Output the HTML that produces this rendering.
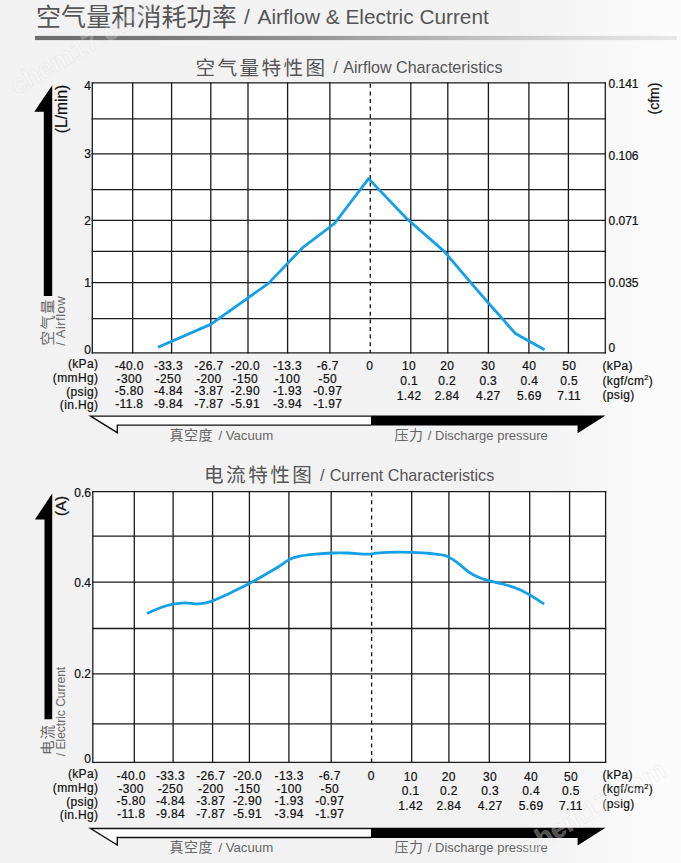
<!DOCTYPE html>
<html><head><meta charset="utf-8"><title>空气量和消耗功率 / Airflow &amp; Electric Current</title>
<style>
html,body{margin:0;padding:0;}
body{width:681px;height:863px;overflow:hidden;background:#f2f2f2;}
svg{display:block;}
.b{stroke:#111;stroke-width:0.22px;}
</style></head><body>
<svg width="681" height="863" viewBox="0 0 681 863">
<defs>
<linearGradient id="bg" x1="520" y1="0" x2="681" y2="0" gradientUnits="userSpaceOnUse">
<stop offset="0" stop-color="#f2f2f2"/><stop offset="1" stop-color="#fcfcfc"/>
</linearGradient>
<linearGradient id="hl" x1="35" y1="0" x2="677" y2="0" gradientUnits="userSpaceOnUse">
<stop offset="0" stop-color="#6c6c6c"/><stop offset="0.18" stop-color="#767676"/><stop offset="0.43" stop-color="#959595"/><stop offset="0.646" stop-color="#b8b8b8"/><stop offset="0.833" stop-color="#d5d5d5"/><stop offset="1" stop-color="#e8e8e8"/>
</linearGradient>
</defs>
<rect x="0" y="0" width="681" height="863" fill="#f2f2f2"/>
<rect x="520" y="0" width="161" height="863" fill="url(#bg)"/>

<text x="36" y="26" font-size="25" letter-spacing="0.1" fill="#555" font-family='"Liberation Sans", "Noto Sans CJK SC", sans-serif'>空气量和消耗功率</text>
<text x="243.9" y="24.2" font-size="20.8" text-anchor="start" fill="#555" font-family='"Liberation Sans", sans-serif'>/<tspan dx="3.3"> Airflow &amp; Electric Current</tspan></text>
<rect x="35" y="35.9" width="642" height="4.2" fill="url(#hl)"/>
<text x="195.6" y="74.6" font-size="19.6" letter-spacing="2.4" fill="#555" font-family='"Liberation Sans", "Noto Sans CJK SC", sans-serif'>空气量特性图</text>
<text x="333.2" y="73.2" font-size="16.1" text-anchor="start" fill="#555" font-family='"Liberation Sans", sans-serif'>/<tspan dx="2"> Airflow Characteristics</tspan></text>
<rect x="92.3" y="82.9" width="513" height="270" fill="#fff"/>
<line x1="92.3" y1="82.3" x2="92.3" y2="353.5" stroke="#1a1a1a" stroke-width="1.3"/>
<line x1="132.7" y1="82.3" x2="132.7" y2="353.5" stroke="#1a1a1a" stroke-width="1.3"/>
<line x1="171.6" y1="82.3" x2="171.6" y2="353.5" stroke="#1a1a1a" stroke-width="1.3"/>
<line x1="210.8" y1="82.3" x2="210.8" y2="353.5" stroke="#1a1a1a" stroke-width="1.3"/>
<line x1="248" y1="82.3" x2="248" y2="353.5" stroke="#1a1a1a" stroke-width="1.3"/>
<line x1="287.6" y1="82.3" x2="287.6" y2="353.5" stroke="#1a1a1a" stroke-width="1.3"/>
<line x1="329.9" y1="82.3" x2="329.9" y2="353.5" stroke="#1a1a1a" stroke-width="1.3"/>
<line x1="370.3" y1="82.9" x2="370.3" y2="352.9" stroke="#111" stroke-width="1.3" stroke-dasharray="4 3.6" stroke-dashoffset="-0.9"/>
<line x1="410.8" y1="82.3" x2="410.8" y2="353.5" stroke="#1a1a1a" stroke-width="1.3"/>
<line x1="447.8" y1="82.3" x2="447.8" y2="353.5" stroke="#1a1a1a" stroke-width="1.3"/>
<line x1="488.4" y1="82.3" x2="488.4" y2="353.5" stroke="#1a1a1a" stroke-width="1.3"/>
<line x1="528.9" y1="82.3" x2="528.9" y2="353.5" stroke="#1a1a1a" stroke-width="1.3"/>
<line x1="568.4" y1="82.3" x2="568.4" y2="353.5" stroke="#1a1a1a" stroke-width="1.3"/>
<line x1="605.3" y1="82.3" x2="605.3" y2="353.5" stroke="#1a1a1a" stroke-width="1.3"/>
<line x1="91.7" y1="82.9" x2="605.9" y2="82.9" stroke="#1a1a1a" stroke-width="1.3"/>
<line x1="91.7" y1="118.9" x2="605.9" y2="118.9" stroke="#1a1a1a" stroke-width="1.3"/>
<line x1="91.7" y1="153.9" x2="605.9" y2="153.9" stroke="#1a1a1a" stroke-width="1.3"/>
<line x1="91.7" y1="189.6" x2="605.9" y2="189.6" stroke="#1a1a1a" stroke-width="1.3"/>
<line x1="91.7" y1="220.4" x2="605.9" y2="220.4" stroke="#1a1a1a" stroke-width="1.3"/>
<line x1="91.7" y1="251.4" x2="605.9" y2="251.4" stroke="#1a1a1a" stroke-width="1.3"/>
<line x1="91.7" y1="282.7" x2="605.9" y2="282.7" stroke="#1a1a1a" stroke-width="1.3"/>
<line x1="91.7" y1="318.6" x2="605.9" y2="318.6" stroke="#1a1a1a" stroke-width="1.3"/>
<line x1="91.7" y1="352.9" x2="605.9" y2="352.9" stroke="#1a1a1a" stroke-width="1.3"/>
<polyline points="158,347.3 210.7,324.4 268.4,283.4 303,247.3 334.5,223.5 368.6,178.6 406.8,218.7 444,251.1 478,291.2 515.4,333.5 544.6,349.8" fill="none" stroke="#14a0e6" stroke-width="2.8" stroke-linejoin="round" stroke-linecap="butt"/>
<text x="91" y="90.2" font-size="12" text-anchor="end" fill="#111" font-family='"Liberation Sans", sans-serif' class="b">4</text>
<text x="91" y="158.2" font-size="12" text-anchor="end" fill="#111" font-family='"Liberation Sans", sans-serif' class="b">3</text>
<text x="91" y="224.8" font-size="12" text-anchor="end" fill="#111" font-family='"Liberation Sans", sans-serif' class="b">2</text>
<text x="91" y="287.2" font-size="12" text-anchor="end" fill="#111" font-family='"Liberation Sans", sans-serif' class="b">1</text>
<text x="91" y="354.2" font-size="12" text-anchor="end" fill="#111" font-family='"Liberation Sans", sans-serif' class="b">0</text>
<text x="608.5" y="88" font-size="12" text-anchor="start" fill="#111" font-family='"Liberation Sans", sans-serif' class="b">0.141</text>
<text x="608.5" y="160" font-size="12" text-anchor="start" fill="#111" font-family='"Liberation Sans", sans-serif' class="b">0.106</text>
<text x="608.5" y="225" font-size="12" text-anchor="start" fill="#111" font-family='"Liberation Sans", sans-serif' class="b">0.071</text>
<text x="608.5" y="287" font-size="12" text-anchor="start" fill="#111" font-family='"Liberation Sans", sans-serif' class="b">0.035</text>
<text x="608.5" y="352" font-size="12" text-anchor="start" fill="#111" font-family='"Liberation Sans", sans-serif' class="b">0</text>
<text x="0" y="0" font-size="15.6" text-anchor="start" fill="#111" font-family='"Liberation Sans", sans-serif' class="b" transform="translate(66.6 133.2) rotate(-90)">(L/min)</text>
<text x="0" y="0" font-size="14" text-anchor="start" fill="#111" font-family='"Liberation Sans", sans-serif' class="b" transform="translate(659 114.5) rotate(-90)">(cfm)</text>
<path d="M52.2 85.2 L34.3 111.8 L43.8 111.8 L43.8 296 L52.2 296 Z" fill="#000"/>
<text transform="translate(52.5 345.5) rotate(-90)" font-size="14.5" letter-spacing="1.3" fill="#686868" font-family='"Liberation Sans", "Noto Sans CJK SC", sans-serif'>空气量</text>
<text x="0" y="0" font-size="13" text-anchor="start" fill="#686868" font-family='"Liberation Sans", sans-serif' letter-spacing="0.5" transform="translate(65.4 345.8) rotate(-90)">/ Airflow</text>
<text x="129.27" y="369.6" font-size="12" text-anchor="middle" fill="#111" font-family='"Liberation Sans", sans-serif' class="b" letter-spacing="0.35">-40.0</text>
<text x="168.47" y="369.6" font-size="12" text-anchor="middle" fill="#111" font-family='"Liberation Sans", sans-serif' class="b" letter-spacing="0.35">-33.3</text>
<text x="208.87" y="369.6" font-size="12" text-anchor="middle" fill="#111" font-family='"Liberation Sans", sans-serif' class="b" letter-spacing="0.35">-26.7</text>
<text x="245.37" y="369.6" font-size="12" text-anchor="middle" fill="#111" font-family='"Liberation Sans", sans-serif' class="b" letter-spacing="0.35">-20.0</text>
<text x="287.47" y="369.6" font-size="12" text-anchor="middle" fill="#111" font-family='"Liberation Sans", sans-serif' class="b" letter-spacing="0.35">-13.3</text>
<text x="327.77" y="369.6" font-size="12" text-anchor="middle" fill="#111" font-family='"Liberation Sans", sans-serif' class="b" letter-spacing="0.35">-6.7</text>
<text x="369.67" y="369.6" font-size="12" text-anchor="middle" fill="#111" font-family='"Liberation Sans", sans-serif' class="b" letter-spacing="0.35">0</text>
<text x="129.27" y="382.5" font-size="12" text-anchor="middle" fill="#111" font-family='"Liberation Sans", sans-serif' class="b" letter-spacing="0.35">-300</text>
<text x="168.47" y="382.5" font-size="12" text-anchor="middle" fill="#111" font-family='"Liberation Sans", sans-serif' class="b" letter-spacing="0.35">-250</text>
<text x="208.87" y="382.5" font-size="12" text-anchor="middle" fill="#111" font-family='"Liberation Sans", sans-serif' class="b" letter-spacing="0.35">-200</text>
<text x="245.37" y="382.5" font-size="12" text-anchor="middle" fill="#111" font-family='"Liberation Sans", sans-serif' class="b" letter-spacing="0.35">-150</text>
<text x="287.47" y="382.5" font-size="12" text-anchor="middle" fill="#111" font-family='"Liberation Sans", sans-serif' class="b" letter-spacing="0.35">-100</text>
<text x="327.77" y="382.5" font-size="12" text-anchor="middle" fill="#111" font-family='"Liberation Sans", sans-serif' class="b" letter-spacing="0.35">-50</text>
<text x="129.27" y="395.2" font-size="12" text-anchor="middle" fill="#111" font-family='"Liberation Sans", sans-serif' class="b" letter-spacing="0.35">-5.80</text>
<text x="168.47" y="395.2" font-size="12" text-anchor="middle" fill="#111" font-family='"Liberation Sans", sans-serif' class="b" letter-spacing="0.35">-4.84</text>
<text x="208.87" y="395.2" font-size="12" text-anchor="middle" fill="#111" font-family='"Liberation Sans", sans-serif' class="b" letter-spacing="0.35">-3.87</text>
<text x="245.37" y="395.2" font-size="12" text-anchor="middle" fill="#111" font-family='"Liberation Sans", sans-serif' class="b" letter-spacing="0.35">-2.90</text>
<text x="287.47" y="395.2" font-size="12" text-anchor="middle" fill="#111" font-family='"Liberation Sans", sans-serif' class="b" letter-spacing="0.35">-1.93</text>
<text x="327.77" y="395.2" font-size="12" text-anchor="middle" fill="#111" font-family='"Liberation Sans", sans-serif' class="b" letter-spacing="0.35">-0.97</text>
<text x="129.27" y="407.9" font-size="12" text-anchor="middle" fill="#111" font-family='"Liberation Sans", sans-serif' class="b" letter-spacing="0.35">-11.8</text>
<text x="168.47" y="407.9" font-size="12" text-anchor="middle" fill="#111" font-family='"Liberation Sans", sans-serif' class="b" letter-spacing="0.35">-9.84</text>
<text x="208.87" y="407.9" font-size="12" text-anchor="middle" fill="#111" font-family='"Liberation Sans", sans-serif' class="b" letter-spacing="0.35">-7.87</text>
<text x="245.37" y="407.9" font-size="12" text-anchor="middle" fill="#111" font-family='"Liberation Sans", sans-serif' class="b" letter-spacing="0.35">-5.91</text>
<text x="287.47" y="407.9" font-size="12" text-anchor="middle" fill="#111" font-family='"Liberation Sans", sans-serif' class="b" letter-spacing="0.35">-3.94</text>
<text x="327.77" y="407.9" font-size="12" text-anchor="middle" fill="#111" font-family='"Liberation Sans", sans-serif' class="b" letter-spacing="0.35">-1.97</text>
<text x="409.07" y="370.3" font-size="12" text-anchor="middle" fill="#111" font-family='"Liberation Sans", sans-serif' class="b" letter-spacing="0.35">10</text>
<text x="447.17" y="370.3" font-size="12" text-anchor="middle" fill="#111" font-family='"Liberation Sans", sans-serif' class="b" letter-spacing="0.35">20</text>
<text x="488.27" y="370.3" font-size="12" text-anchor="middle" fill="#111" font-family='"Liberation Sans", sans-serif' class="b" letter-spacing="0.35">30</text>
<text x="529.37" y="370.3" font-size="12" text-anchor="middle" fill="#111" font-family='"Liberation Sans", sans-serif' class="b" letter-spacing="0.35">40</text>
<text x="569.17" y="370.3" font-size="12" text-anchor="middle" fill="#111" font-family='"Liberation Sans", sans-serif' class="b" letter-spacing="0.35">50</text>
<text x="409.07" y="385" font-size="12" text-anchor="middle" fill="#111" font-family='"Liberation Sans", sans-serif' class="b" letter-spacing="0.35">0.1</text>
<text x="447.17" y="385" font-size="12" text-anchor="middle" fill="#111" font-family='"Liberation Sans", sans-serif' class="b" letter-spacing="0.35">0.2</text>
<text x="488.27" y="385" font-size="12" text-anchor="middle" fill="#111" font-family='"Liberation Sans", sans-serif' class="b" letter-spacing="0.35">0.3</text>
<text x="529.37" y="385" font-size="12" text-anchor="middle" fill="#111" font-family='"Liberation Sans", sans-serif' class="b" letter-spacing="0.35">0.4</text>
<text x="569.17" y="385" font-size="12" text-anchor="middle" fill="#111" font-family='"Liberation Sans", sans-serif' class="b" letter-spacing="0.35">0.5</text>
<text x="409.07" y="400" font-size="12" text-anchor="middle" fill="#111" font-family='"Liberation Sans", sans-serif' class="b" letter-spacing="0.35">1.42</text>
<text x="447.17" y="400" font-size="12" text-anchor="middle" fill="#111" font-family='"Liberation Sans", sans-serif' class="b" letter-spacing="0.35">2.84</text>
<text x="488.27" y="400" font-size="12" text-anchor="middle" fill="#111" font-family='"Liberation Sans", sans-serif' class="b" letter-spacing="0.35">4.27</text>
<text x="529.37" y="400" font-size="12" text-anchor="middle" fill="#111" font-family='"Liberation Sans", sans-serif' class="b" letter-spacing="0.35">5.69</text>
<text x="569.17" y="400" font-size="12" text-anchor="middle" fill="#111" font-family='"Liberation Sans", sans-serif' class="b" letter-spacing="0.35">7.11</text>
<text x="98.3" y="368.4" font-size="12" text-anchor="end" fill="#111" font-family='"Liberation Sans", sans-serif' class="b" letter-spacing="0.35">(kPa)</text>
<text x="98.3" y="381.6" font-size="12" text-anchor="end" fill="#111" font-family='"Liberation Sans", sans-serif' class="b" letter-spacing="0.35">(mmHg)</text>
<text x="98.3" y="396.1" font-size="12" text-anchor="end" fill="#111" font-family='"Liberation Sans", sans-serif' class="b" letter-spacing="0.35">(psig)</text>
<text x="98.3" y="408.6" font-size="12" text-anchor="end" fill="#111" font-family='"Liberation Sans", sans-serif' class="b" letter-spacing="0.35">(in.Hg)</text>
<text x="602.5" y="369.8" font-size="12" text-anchor="start" fill="#111" font-family='"Liberation Sans", sans-serif' class="b" letter-spacing="0.35">(kPa)</text>
<text x="602.5" y="384.6" font-size="12" text-anchor="start" fill="#111" font-family='"Liberation Sans", sans-serif' class="b" letter-spacing="0.35">(kgf/cm<tspan font-size="7.5" dy="-4.2">2</tspan><tspan dy="4.2">)</tspan></text>
<text x="602.5" y="398.9" font-size="12" text-anchor="start" fill="#111" font-family='"Liberation Sans", sans-serif' class="b" letter-spacing="0.35">(psig)</text>
<path d="M371 416.1 L90.6 416.1 L117.3 432.7 L117.3 425.1 L371 425.1" fill="#fff" stroke="#111" stroke-width="1.4" stroke-linejoin="miter"/>
<path d="M371 415.4 L605.5 415.4 L577.6 433.2 L577.6 425.6 L371 425.6 Z" fill="#000"/>
<text x="169.5" y="439.5" font-size="14" letter-spacing="0.5" fill="#666" font-family='"Liberation Sans", "Noto Sans CJK SC", sans-serif'>真空度</text>
<text x="218.4" y="439.8" font-size="13.2" text-anchor="start" fill="#666" font-family='"Liberation Sans", sans-serif'>/ Vacuum</text>
<text x="394.5" y="439.5" font-size="14" letter-spacing="0.5" fill="#666" font-family='"Liberation Sans", "Noto Sans CJK SC", sans-serif'>压力</text>
<text x="427.8" y="439.6" font-size="13" text-anchor="start" fill="#666" font-family='"Liberation Sans", sans-serif'>/ Discharge pressure</text>
<text x="204" y="482.1" font-size="19.6" letter-spacing="2.5" fill="#555" font-family='"Liberation Sans", "Noto Sans CJK SC", sans-serif'>电流特性图</text>
<text x="320.1" y="480.8" font-size="16.1" text-anchor="start" fill="#555" font-family='"Liberation Sans", sans-serif'>/<tspan dx="0.6"> Current Characteristics</tspan></text>
<rect x="92.8" y="491.7" width="512.8" height="270.7" fill="#fff"/>
<line x1="92.8" y1="491.1" x2="92.8" y2="763" stroke="#1a1a1a" stroke-width="1.3"/>
<line x1="134.3" y1="491.1" x2="134.3" y2="763" stroke="#1a1a1a" stroke-width="1.3"/>
<line x1="173.1" y1="491.1" x2="173.1" y2="763" stroke="#1a1a1a" stroke-width="1.3"/>
<line x1="212.6" y1="491.1" x2="212.6" y2="763" stroke="#1a1a1a" stroke-width="1.3"/>
<line x1="249.4" y1="491.1" x2="249.4" y2="763" stroke="#1a1a1a" stroke-width="1.3"/>
<line x1="288.9" y1="491.1" x2="288.9" y2="763" stroke="#1a1a1a" stroke-width="1.3"/>
<line x1="331.2" y1="491.1" x2="331.2" y2="763" stroke="#1a1a1a" stroke-width="1.3"/>
<line x1="371.6" y1="491.7" x2="371.6" y2="762.4" stroke="#111" stroke-width="1.3" stroke-dasharray="4 3.6" stroke-dashoffset="-0.9"/>
<line x1="411.7" y1="491.1" x2="411.7" y2="763" stroke="#1a1a1a" stroke-width="1.3"/>
<line x1="448.9" y1="491.1" x2="448.9" y2="763" stroke="#1a1a1a" stroke-width="1.3"/>
<line x1="489.3" y1="491.1" x2="489.3" y2="763" stroke="#1a1a1a" stroke-width="1.3"/>
<line x1="529.7" y1="491.1" x2="529.7" y2="763" stroke="#1a1a1a" stroke-width="1.3"/>
<line x1="569.6" y1="491.1" x2="569.6" y2="763" stroke="#1a1a1a" stroke-width="1.3"/>
<line x1="605.6" y1="491.1" x2="605.6" y2="763" stroke="#1a1a1a" stroke-width="1.3"/>
<line x1="92.2" y1="491.7" x2="606.2" y2="491.7" stroke="#1a1a1a" stroke-width="1.3"/>
<line x1="92.2" y1="536.2" x2="606.2" y2="536.2" stroke="#1a1a1a" stroke-width="1.3"/>
<line x1="92.2" y1="582.1" x2="606.2" y2="582.1" stroke="#1a1a1a" stroke-width="1.3"/>
<line x1="92.2" y1="628.5" x2="606.2" y2="628.5" stroke="#1a1a1a" stroke-width="1.3"/>
<line x1="92.2" y1="673.8" x2="606.2" y2="673.8" stroke="#1a1a1a" stroke-width="1.3"/>
<line x1="92.2" y1="723.8" x2="606.2" y2="723.8" stroke="#1a1a1a" stroke-width="1.3"/>
<line x1="92.2" y1="762.4" x2="606.2" y2="762.4" stroke="#1a1a1a" stroke-width="1.3"/>
<path d="M147 613.4 C149.35 612.42 156.78 609.03 161.1 607.5 C165.42 605.97 168.98 604.98 172.9 604.2 C176.82 603.42 180.3 602.87 184.6 602.8 C188.9 602.73 194.38 603.98 198.7 603.8 C203.02 603.62 205.4 603.43 210.5 601.7 C215.6 599.97 222.83 596.42 229.3 593.4 C235.77 590.38 242.65 587.12 249.3 583.6 C255.95 580.08 264.08 575.28 269.2 572.3 C274.32 569.32 276.63 567.85 280 565.7 C283.37 563.55 286.27 560.97 289.4 559.4 C292.53 557.83 294.5 557.17 298.8 556.3 C303.1 555.43 309.72 554.75 315.2 554.2 C320.68 553.65 326.22 553.2 331.7 553 C337.18 552.8 342.23 552.8 348.1 553 C353.97 553.2 361.8 554.23 366.9 554.2 C372 554.17 373.6 553.15 378.7 552.8 C383.8 552.45 392.02 552.18 397.5 552.1 C402.98 552.02 406.12 552.07 411.6 552.3 C417.08 552.53 424.7 552.92 430.4 553.5 C436.1 554.08 441.27 554.23 445.8 555.8 C450.33 557.37 453.68 560.15 457.6 562.9 C461.52 565.65 465.38 569.75 469.3 572.3 C473.22 574.85 477.57 576.72 481.1 578.2 C484.63 579.68 486.58 580.15 490.5 581.2 C494.42 582.25 499.9 583.17 504.6 584.5 C509.3 585.83 514.4 587.4 518.7 589.2 C523 591 526.17 592.83 530.4 595.3 C534.63 597.77 541.82 602.55 544.1 604" fill="none" stroke="#14a0e6" stroke-width="2.8" stroke-linecap="butt"/>
<text x="91" y="497" font-size="12" text-anchor="end" fill="#111" font-family='"Liberation Sans", sans-serif' class="b">0.6</text>
<text x="91" y="586.6" font-size="12" text-anchor="end" fill="#111" font-family='"Liberation Sans", sans-serif' class="b">0.4</text>
<text x="91" y="678.4" font-size="12" text-anchor="end" fill="#111" font-family='"Liberation Sans", sans-serif' class="b">0.2</text>
<text x="91" y="762.7" font-size="12" text-anchor="end" fill="#111" font-family='"Liberation Sans", sans-serif' class="b">0</text>
<text x="0" y="0" font-size="15" text-anchor="start" fill="#111" font-family='"Liberation Sans", sans-serif' class="b" transform="translate(65.9 516.1) rotate(-90)">(A)</text>
<path d="M52.2 493.5 L34.9 519.6 L44.5 519.6 L44.5 719.2 L52.2 719.2 Z" fill="#000"/>
<text transform="translate(52.5 755) rotate(-90)" font-size="14.5" letter-spacing="1" fill="#686868" font-family='"Liberation Sans", "Noto Sans CJK SC", sans-serif'>电流</text>
<text x="0" y="0" font-size="12" text-anchor="start" fill="#686868" font-family='"Liberation Sans", sans-serif' transform="translate(65.4 756.2) rotate(-90)">/ Electric Current</text>
<text x="131.17" y="779.8" font-size="12" text-anchor="middle" fill="#111" font-family='"Liberation Sans", sans-serif' class="b" letter-spacing="0.35">-40.0</text>
<text x="170.47" y="779.8" font-size="12" text-anchor="middle" fill="#111" font-family='"Liberation Sans", sans-serif' class="b" letter-spacing="0.35">-33.3</text>
<text x="210.77" y="779.8" font-size="12" text-anchor="middle" fill="#111" font-family='"Liberation Sans", sans-serif' class="b" letter-spacing="0.35">-26.7</text>
<text x="247.47" y="779.8" font-size="12" text-anchor="middle" fill="#111" font-family='"Liberation Sans", sans-serif' class="b" letter-spacing="0.35">-20.0</text>
<text x="289.17" y="779.8" font-size="12" text-anchor="middle" fill="#111" font-family='"Liberation Sans", sans-serif' class="b" letter-spacing="0.35">-13.3</text>
<text x="329.77" y="779.8" font-size="12" text-anchor="middle" fill="#111" font-family='"Liberation Sans", sans-serif' class="b" letter-spacing="0.35">-6.7</text>
<text x="371.27" y="779.8" font-size="12" text-anchor="middle" fill="#111" font-family='"Liberation Sans", sans-serif' class="b" letter-spacing="0.35">0</text>
<text x="131.17" y="792.7" font-size="12" text-anchor="middle" fill="#111" font-family='"Liberation Sans", sans-serif' class="b" letter-spacing="0.35">-300</text>
<text x="170.47" y="792.7" font-size="12" text-anchor="middle" fill="#111" font-family='"Liberation Sans", sans-serif' class="b" letter-spacing="0.35">-250</text>
<text x="210.77" y="792.7" font-size="12" text-anchor="middle" fill="#111" font-family='"Liberation Sans", sans-serif' class="b" letter-spacing="0.35">-200</text>
<text x="247.47" y="792.7" font-size="12" text-anchor="middle" fill="#111" font-family='"Liberation Sans", sans-serif' class="b" letter-spacing="0.35">-150</text>
<text x="289.17" y="792.7" font-size="12" text-anchor="middle" fill="#111" font-family='"Liberation Sans", sans-serif' class="b" letter-spacing="0.35">-100</text>
<text x="329.77" y="792.7" font-size="12" text-anchor="middle" fill="#111" font-family='"Liberation Sans", sans-serif' class="b" letter-spacing="0.35">-50</text>
<text x="131.17" y="805.4" font-size="12" text-anchor="middle" fill="#111" font-family='"Liberation Sans", sans-serif' class="b" letter-spacing="0.35">-5.80</text>
<text x="170.47" y="805.4" font-size="12" text-anchor="middle" fill="#111" font-family='"Liberation Sans", sans-serif' class="b" letter-spacing="0.35">-4.84</text>
<text x="210.77" y="805.4" font-size="12" text-anchor="middle" fill="#111" font-family='"Liberation Sans", sans-serif' class="b" letter-spacing="0.35">-3.87</text>
<text x="247.47" y="805.4" font-size="12" text-anchor="middle" fill="#111" font-family='"Liberation Sans", sans-serif' class="b" letter-spacing="0.35">-2.90</text>
<text x="289.17" y="805.4" font-size="12" text-anchor="middle" fill="#111" font-family='"Liberation Sans", sans-serif' class="b" letter-spacing="0.35">-1.93</text>
<text x="329.77" y="805.4" font-size="12" text-anchor="middle" fill="#111" font-family='"Liberation Sans", sans-serif' class="b" letter-spacing="0.35">-0.97</text>
<text x="131.17" y="818.1" font-size="12" text-anchor="middle" fill="#111" font-family='"Liberation Sans", sans-serif' class="b" letter-spacing="0.35">-11.8</text>
<text x="170.47" y="818.1" font-size="12" text-anchor="middle" fill="#111" font-family='"Liberation Sans", sans-serif' class="b" letter-spacing="0.35">-9.84</text>
<text x="210.77" y="818.1" font-size="12" text-anchor="middle" fill="#111" font-family='"Liberation Sans", sans-serif' class="b" letter-spacing="0.35">-7.87</text>
<text x="247.47" y="818.1" font-size="12" text-anchor="middle" fill="#111" font-family='"Liberation Sans", sans-serif' class="b" letter-spacing="0.35">-5.91</text>
<text x="289.17" y="818.1" font-size="12" text-anchor="middle" fill="#111" font-family='"Liberation Sans", sans-serif' class="b" letter-spacing="0.35">-3.94</text>
<text x="329.77" y="818.1" font-size="12" text-anchor="middle" fill="#111" font-family='"Liberation Sans", sans-serif' class="b" letter-spacing="0.35">-1.97</text>
<text x="410.67" y="780.5" font-size="12" text-anchor="middle" fill="#111" font-family='"Liberation Sans", sans-serif' class="b" letter-spacing="0.35">10</text>
<text x="448.87" y="780.5" font-size="12" text-anchor="middle" fill="#111" font-family='"Liberation Sans", sans-serif' class="b" letter-spacing="0.35">20</text>
<text x="490.07" y="780.5" font-size="12" text-anchor="middle" fill="#111" font-family='"Liberation Sans", sans-serif' class="b" letter-spacing="0.35">30</text>
<text x="531.07" y="780.5" font-size="12" text-anchor="middle" fill="#111" font-family='"Liberation Sans", sans-serif' class="b" letter-spacing="0.35">40</text>
<text x="570.97" y="780.5" font-size="12" text-anchor="middle" fill="#111" font-family='"Liberation Sans", sans-serif' class="b" letter-spacing="0.35">50</text>
<text x="410.67" y="795.2" font-size="12" text-anchor="middle" fill="#111" font-family='"Liberation Sans", sans-serif' class="b" letter-spacing="0.35">0.1</text>
<text x="448.87" y="795.2" font-size="12" text-anchor="middle" fill="#111" font-family='"Liberation Sans", sans-serif' class="b" letter-spacing="0.35">0.2</text>
<text x="490.07" y="795.2" font-size="12" text-anchor="middle" fill="#111" font-family='"Liberation Sans", sans-serif' class="b" letter-spacing="0.35">0.3</text>
<text x="531.07" y="795.2" font-size="12" text-anchor="middle" fill="#111" font-family='"Liberation Sans", sans-serif' class="b" letter-spacing="0.35">0.4</text>
<text x="570.97" y="795.2" font-size="12" text-anchor="middle" fill="#111" font-family='"Liberation Sans", sans-serif' class="b" letter-spacing="0.35">0.5</text>
<text x="410.67" y="810.2" font-size="12" text-anchor="middle" fill="#111" font-family='"Liberation Sans", sans-serif' class="b" letter-spacing="0.35">1.42</text>
<text x="448.87" y="810.2" font-size="12" text-anchor="middle" fill="#111" font-family='"Liberation Sans", sans-serif' class="b" letter-spacing="0.35">2.84</text>
<text x="490.07" y="810.2" font-size="12" text-anchor="middle" fill="#111" font-family='"Liberation Sans", sans-serif' class="b" letter-spacing="0.35">4.27</text>
<text x="531.07" y="810.2" font-size="12" text-anchor="middle" fill="#111" font-family='"Liberation Sans", sans-serif' class="b" letter-spacing="0.35">5.69</text>
<text x="570.97" y="810.2" font-size="12" text-anchor="middle" fill="#111" font-family='"Liberation Sans", sans-serif' class="b" letter-spacing="0.35">7.11</text>
<text x="98.3" y="777.8" font-size="12" text-anchor="end" fill="#111" font-family='"Liberation Sans", sans-serif' class="b" letter-spacing="0.35">(kPa)</text>
<text x="98.3" y="791.5" font-size="12" text-anchor="end" fill="#111" font-family='"Liberation Sans", sans-serif' class="b" letter-spacing="0.35">(mmHg)</text>
<text x="98.3" y="806.3" font-size="12" text-anchor="end" fill="#111" font-family='"Liberation Sans", sans-serif' class="b" letter-spacing="0.35">(psig)</text>
<text x="98.3" y="819" font-size="12" text-anchor="end" fill="#111" font-family='"Liberation Sans", sans-serif' class="b" letter-spacing="0.35">(in.Hg)</text>
<text x="602.5" y="778.6" font-size="12" text-anchor="start" fill="#111" font-family='"Liberation Sans", sans-serif' class="b" letter-spacing="0.35">(kPa)</text>
<text x="602.5" y="793.4" font-size="12" text-anchor="start" fill="#111" font-family='"Liberation Sans", sans-serif' class="b" letter-spacing="0.35">(kgf/cm<tspan font-size="7.5" dy="-4.2">2</tspan><tspan dy="4.2">)</tspan></text>
<text x="602.5" y="807.7" font-size="12" text-anchor="start" fill="#111" font-family='"Liberation Sans", sans-serif' class="b" letter-spacing="0.35">(psig)</text>
<path d="M371 828.5 L90.6 828.5 L117.3 845.1 L117.3 837.5 L371 837.5" fill="#fff" stroke="#111" stroke-width="1.4" stroke-linejoin="miter"/>
<path d="M371 827.8 L605.5 827.8 L577.6 845.6 L577.6 838 L371 838 Z" fill="#000"/>
<text x="169.5" y="852.3" font-size="14" letter-spacing="0.5" fill="#666" font-family='"Liberation Sans", "Noto Sans CJK SC", sans-serif'>真空度</text>
<text x="218.4" y="852.4" font-size="13.2" text-anchor="start" fill="#666" font-family='"Liberation Sans", sans-serif'>/ Vacuum</text>
<text x="394.5" y="852.3" font-size="14" letter-spacing="0.5" fill="#666" font-family='"Liberation Sans", "Noto Sans CJK SC", sans-serif'>压力</text>
<text x="427.8" y="852.2" font-size="13" text-anchor="start" fill="#666" font-family='"Liberation Sans", sans-serif'>/ Discharge pressure</text>
<text transform="translate(16.2 95.3) rotate(-30)" font-size="26.5" font-weight="bold" font-family='"Liberation Sans", sans-serif' fill="#fff" fill-opacity="0.22" stroke="#d0d0d0" stroke-opacity="0.35" stroke-width="0.6">chem17.com</text>
<text transform="translate(529 855.6) rotate(-30)" font-size="26.5" font-weight="bold" font-family='"Liberation Sans", sans-serif' fill="#fff" fill-opacity="0.32" stroke="#d0d0d0" stroke-opacity="0.35" stroke-width="0.6">chem17.com</text>
</svg>
</body></html>
